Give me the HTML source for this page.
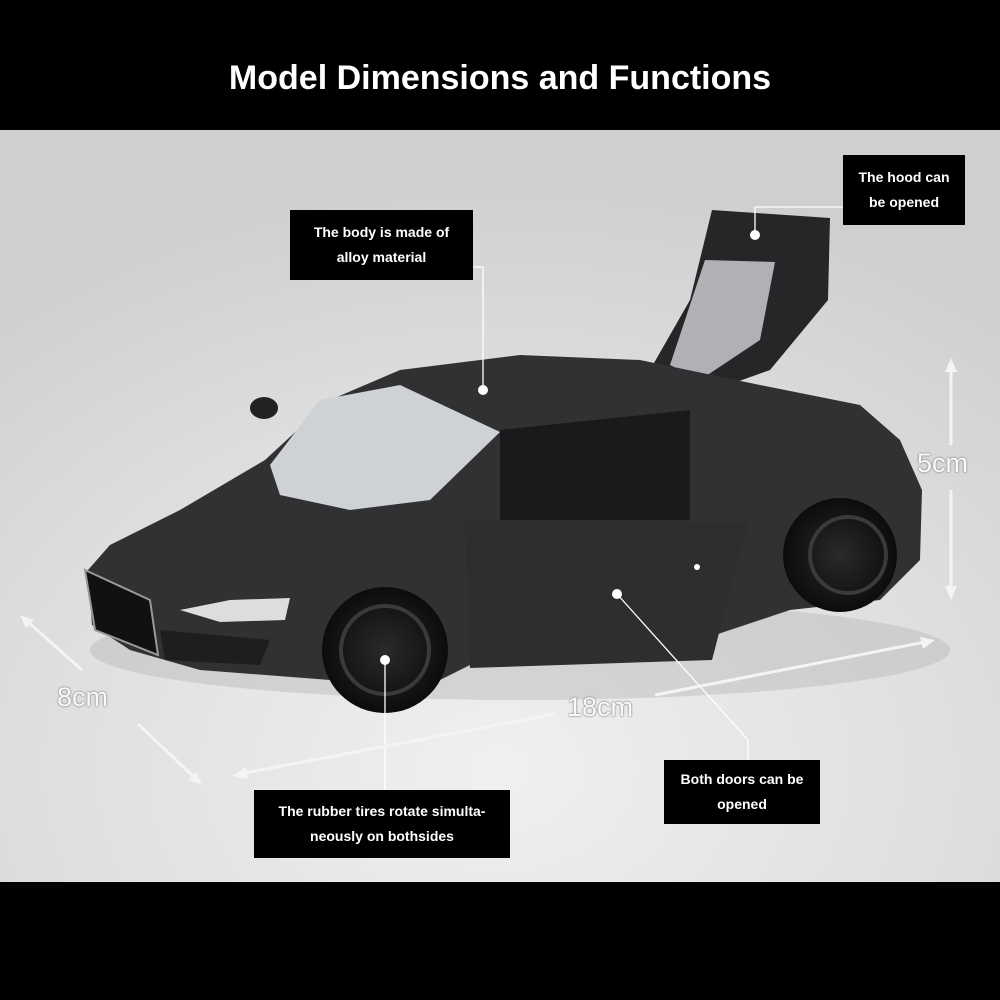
<!DOCTYPE html>
<html><head><meta charset="utf-8"><style>
html,body{margin:0;padding:0;width:1000px;height:1000px;overflow:hidden;background:#000;font-family:"Liberation Sans",sans-serif}
.title{position:absolute;top:0;left:0;width:1000px;height:130px;background:#000;color:#fff;font-weight:bold;font-size:34px;text-align:center;line-height:156px}
.box{position:absolute;background:#000;color:#fff;font-weight:bold;font-size:14px;text-align:center;line-height:25px;display:flex;align-items:center;justify-content:center}
.dim{position:absolute;color:#fafafa;font-size:27px;text-shadow:0 0 2px #777,0 0 1px #777}
</style></head><body>
<div class="title">Model Dimensions and Functions</div>
<svg style="position:absolute;top:130px;left:0" width="1000" height="752" viewBox="0 130 1000 752">
<defs>
<radialGradient id="bg" cx="0.5" cy="0.85" r="0.8"><stop offset="0" stop-color="#f0f0f0"/><stop offset="0.6" stop-color="#dedede"/><stop offset="1" stop-color="#cfcfd1"/></radialGradient>
<radialGradient id="wh" cx="0.5" cy="0.5" r="0.5"><stop offset="0" stop-color="#2a2a2a"/><stop offset="0.7" stop-color="#151515"/><stop offset="1" stop-color="#0c0c0c"/></radialGradient>
</defs>
<rect x="0" y="130" width="1000" height="752" fill="url(#bg)"/>
<ellipse cx="520" cy="650" rx="430" ry="50" fill="#bbb" opacity="0.5"/>
<path d="M712 210 L830 218 L828 300 L770 370 L700 395 L650 370 L690 300 Z" fill="#262628"/>
<path d="M705 260 L775 262 L760 340 L700 380 L670 365 Z" fill="#c8cacc" opacity="0.85"/>
<path d="M88 570 L110 545 L180 510 L265 460 L330 400 L400 370 L520 355 L640 360 L760 385 L860 405 L900 440 L922 490 L920 560 L880 600 L790 610 L700 640 L470 665 L440 680 L330 680 L200 670 L130 650 L92 625 Z" fill="#313133"/>
<path d="M270 465 L320 400 L400 385 L500 432 L430 500 L350 510 L280 495 Z" fill="#cfd2d4"/>
<path d="M500 430 L690 410 L690 520 L500 520 Z" fill="#1a1a1c"/>
<path d="M465 520 L748 522 L712 660 L470 668 Z" fill="#2e2e30"/>
<path d="M180 610 L230 600 L290 598 L285 620 L220 622 Z" fill="#ddd"/>
<path d="M85 570 L150 600 L158 655 L95 630 Z" fill="#111" stroke="#999" stroke-width="2"/>
<path d="M160 630 L270 640 L260 665 L165 660 Z" fill="#1e1e1e"/>
<circle cx="385" cy="650" r="63" fill="url(#wh)"/>
<circle cx="385" cy="650" r="44" fill="none" stroke="#3a3a3a" stroke-width="4"/>
<circle cx="840" cy="555" r="57" fill="url(#wh)"/>
<circle cx="848" cy="555" r="38" fill="none" stroke="#3a3a3a" stroke-width="4"/>
<ellipse cx="264" cy="408" rx="14" ry="11" fill="#222"/>
<g stroke="#fff" stroke-width="1.3" fill="none">
<polyline points="843,207 755,207 755,235"/>
<polyline points="473,267 483,267 483,390"/>
<polyline points="748,760 748,740 617,594"/>
<polyline points="385,790 385,660"/>
</g>
<g fill="#fff"><circle cx="755" cy="235" r="5"/><circle cx="483" cy="390" r="5"/><circle cx="617" cy="594" r="5"/><circle cx="385" cy="660" r="5"/><circle cx="697" cy="567" r="3"/></g>
<g stroke="#f4f4f4" stroke-width="3" fill="#f4f4f4">
<line x1="951" y1="368" x2="951" y2="445"/><line x1="951" y1="490" x2="951" y2="590"/>
<line x1="240" y1="774" x2="555" y2="714"/><line x1="655" y1="695" x2="925" y2="642"/>
<line x1="28" y1="622" x2="82" y2="670"/><line x1="138" y1="724" x2="195" y2="778"/>
</g>
<g fill="#f4f4f4">
<polygon points="951,358 945,372 957,372"/><polygon points="951,600 945,586 957,586"/>
<polygon points="232,776 246,767 248,779"/><polygon points="935,640 920,637 923,649"/>
<polygon points="20,615 34,620 26,628"/><polygon points="202,785 188,780 196,772"/>
</g>
</svg>
<div class="dim" style="left:917px;top:448px">5cm</div>
<div class="dim" style="left:567px;top:692px">18cm</div>
<div class="dim" style="left:57px;top:682px">8cm</div>
<div class="box" style="left:843px;top:155px;width:122px;height:70px">The hood can<br>be opened</div>
<div class="box" style="left:290px;top:210px;width:183px;height:70px">The body is made of<br>alloy material</div>
<div class="box" style="left:664px;top:760px;width:156px;height:64px">Both doors can be<br>opened</div>
<div class="box" style="left:254px;top:790px;width:256px;height:68px">The rubber tires rotate simulta-<br>neously on bothsides</div>
</body></html>
